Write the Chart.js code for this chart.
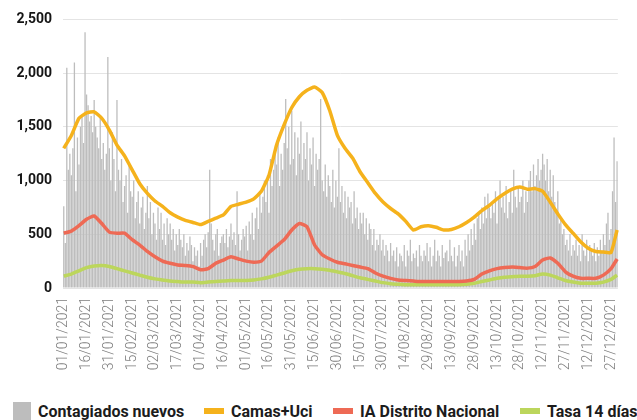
<!DOCTYPE html>
<html>
<head>
<meta charset="utf-8">
<script src="https://cdn.jsdelivr.net/npm/chart.js@4.4.1/dist/chart.umd.min.js"></script>
<style>
  html, body { margin: 0; padding: 0; background: #fff; }
  #wrap { position: relative; width: 637px; height: 420px; overflow: hidden; font-family: Roboto, "Noto Sans", sans-serif; }
  #grafica { position: absolute; left: 0; top: 0; }
  .leg { position: absolute; top: 402px; height: 18px; display: flex; align-items: center; font-weight: 700; font-size: 16px; color: #1c1c1c; white-space: nowrap; }
  .sw { display: inline-block; margin-right: 7px; }
</style>
</head>
<body>
<div id="wrap">
  <canvas id="grafica" width="637" height="390"></canvas>
  <div id="leyenda"></div>
</div>
<script>
// contagiados nuevos, un valor por dia (01/01/2021 - 31/12/2021)
const contagiados = [
  760, 420, 2050, 1100, 1250, 1050, 1300,
  2100, 900, 1400, 1150, 1500, 1600, 1350,
  2380, 1800, 1700, 1550, 1600, 1450, 1750,
  1500, 1400, 1300, 1600, 1200, 1350, 1100,
  1250, 2150, 1300, 1000, 1450, 1200, 900,
  1750, 1100, 1000, 1200, 800, 950, 1050,
  700, 1150, 900, 850, 1000, 650, 800,
  900, 600, 750, 850, 550, 700, 950,
  650, 800, 500, 700, 600, 450, 750,
  550, 700, 450, 600, 400, 650, 500,
  600, 450, 550, 350, 500, 400, 550,
  450, 380, 500, 300, 420, 350, 480,
  400, 250, 380, 300, 350, 200, 420,
  300, 450, 500, 380, 520, 1100, 600,
  450, 350, 500, 550, 300, 420, 480,
  500, 420, 550, 380, 480, 600, 450,
  520, 400, 900, 500, 350, 450, 550,
  480, 580, 350, 620, 500, 700, 450,
  650, 750, 550, 900, 700, 850, 1000,
  800, 1050, 700, 1200, 950, 1100, 1300,
  1150, 1400, 950, 1250, 1100, 1350, 1760,
  1300, 1500, 1150, 1650, 1200, 1450, 1050,
  1400, 1250, 1550, 1100, 1350, 1200, 1450,
  1000, 1300, 1150, 1400, 950, 1250, 1100,
  1200, 1760, 1000, 900, 1150, 850, 1050,
  950, 800, 1100, 750, 1000, 850, 1300,
  800, 950, 700, 900, 650, 850, 750,
  800, 600, 900, 650, 750, 550, 700,
  600, 700, 500, 650, 450, 600, 550,
  400, 550, 350, 450, 400, 500, 350,
  450, 300, 400, 350, 250, 420, 300,
  350, 250, 380, 200, 320, 300, 250,
  400, 200, 350, 300, 450, 250, 320,
  280, 350, 200, 400, 300, 250, 350,
  300, 420, 250, 380, 200, 300, 450,
  250, 350, 300, 200, 400, 280, 330,
  350, 250, 450, 300, 250, 380, 200,
  300, 400, 250, 350, 200, 450, 300,
  500, 350, 550, 400, 600, 450, 650,
  700, 550, 750, 600, 850, 650, 880,
  750, 650, 800, 700, 900, 600, 850,
  1000, 750, 850, 700, 950, 650, 800,
  900, 700, 1100, 850, 750, 950, 800,
  850, 1000, 700, 900, 800, 1000, 1090,
  900, 1150, 950, 1050, 1200, 1000, 1100,
  1250, 1150, 1000, 1200, 900, 1100, 850,
  1050, 800, 700, 900, 600, 650, 500,
  550, 400, 450, 350, 500, 300, 400,
  350, 450, 300, 400, 250, 500, 350,
  300, 450, 250, 400, 350, 300, 420,
  250, 380, 300, 450, 350, 500, 400,
  600, 700, 450, 550, 900, 1400, 800,
  1180
];

// dias (desde el 01/01) en que se leyeron las lineas
const diasLinea = [0, 5, 10, 15, 20, 25, 30, 35, 40, 45, 50, 55, 60, 65, 70, 75, 80, 85, 90, 95,
  100, 105, 110, 115, 120, 125, 130, 135, 140, 145, 150, 155, 160, 165, 170, 175, 180, 185, 190, 195,
  200, 205, 210, 215, 220, 225, 230, 235, 240, 245, 250, 255, 260, 265, 270, 275, 280, 285, 290, 295,
  300, 305, 310, 315, 320, 325, 330, 335, 340, 345, 350, 355, 360, 364];

const camasUci = [1300, 1420, 1580, 1630, 1640, 1580, 1470, 1330, 1230, 1100,
  970, 880, 810, 760, 700, 660, 630, 610, 590, 620,
  650, 680, 760, 780, 800, 830, 900, 1050, 1330, 1520,
  1680, 1780, 1840, 1870, 1820, 1650, 1420, 1300, 1210, 1080,
  980, 880, 800, 740, 690, 620, 540, 570, 580, 565,
  540, 545, 570, 610, 660, 720, 770, 830, 880, 920,
  940, 920, 925, 900, 800, 690, 590, 510, 430, 370,
  340, 335, 330, 540];

const iaDistrito = [510, 530, 580, 640, 670, 600, 520, 510, 510, 450,
  400, 340, 290, 250, 230, 215, 210, 200, 170, 180,
  230, 260, 290, 270, 250, 240, 250, 330, 390, 450,
  540, 600, 570, 400, 310, 270, 240, 225, 210, 195,
  180, 140, 110, 90, 75, 70, 65, 60, 60, 60,
  60, 60, 60, 65, 80, 130, 160, 180, 190, 195,
  190, 185, 200, 260, 280, 230, 150, 110, 90, 90,
  90, 120, 180, 270];

const tasa14 = [110, 130, 160, 190, 205, 210, 200, 180, 160, 140,
  120, 100, 85, 75, 65, 60, 55, 55, 50, 55,
  60, 65, 70, 70, 70, 75, 85, 100, 120, 140,
  160, 175, 180, 180, 175, 165, 150, 135, 115, 95,
  80, 65, 50, 40, 35, 30, 30, 30, 30, 30,
  30, 30, 30, 35, 45, 60, 75, 90, 100, 105,
  110, 110, 115, 130, 120, 95, 70, 55, 45, 45,
  45, 55, 80, 120];

const yTicks = [0, 500, 1000, 1500, 2000, 2500];
const pasoEtiquetas = 15;

// fechas dd/mm/aaaa
const fechas = [];
for (let i = 0; i < contagiados.length; i++) {
  const d = new Date(2021, 0, 1 + i);
  fechas.push(String(d.getDate()).padStart(2, '0') + '/' + String(d.getMonth() + 1).padStart(2, '0') + '/' + d.getFullYear());
}

const puntos = (vals) => vals.map((v, i) => ({ x: fechas[diasLinea[i]], y: v }));

const series = [
  { label: 'Contagiados nuevos', color: '#bdbdbd', tipo: 'bar' },
  { label: 'Camas+Uci', color: '#f5b21c', tipo: 'line', data: camasUci },
  { label: 'IA Distrito Nacional', color: '#ee6a55', tipo: 'line', data: iaDistrito },
  { label: 'Tasa 14 días', color: '#bcd65c', tipo: 'line', data: tasa14 }
];

const ctx = document.getElementById('grafica').getContext('2d');

const grafica = new Chart(ctx, {
  data: {
    labels: fechas,
    datasets: [
      {
        type: 'line',
        label: series[1].label,
        data: puntos(camasUci),
        borderColor: series[1].color,
        borderWidth: 3.5,
        pointRadius: 0,
        tension: 0.15,
        order: 1
      },
      {
        type: 'line',
        label: series[2].label,
        data: puntos(iaDistrito),
        borderColor: series[2].color,
        borderWidth: 3.5,
        pointRadius: 0,
        tension: 0.15,
        order: 2
      },
      {
        type: 'line',
        label: series[3].label,
        data: puntos(tasa14),
        borderColor: series[3].color,
        borderWidth: 3.5,
        pointRadius: 0,
        tension: 0.15,
        order: 3
      },
      {
        type: 'bar',
        label: series[0].label,
        data: contagiados,
        backgroundColor: series[0].color,
        barPercentage: 1,
        categoryPercentage: 0.85,
        order: 10
      }
    ]
  },
  options: {
    responsive: false,
    animation: false,
    layout: { padding: { top: 17, right: 15, left: 0, bottom: 0 } },
    scales: {
      y: {
        min: 0,
        max: 2500,
        afterFit: (s) => { s.width = 63; },
        afterBuildTicks: (s) => { s.ticks = yTicks.map(v => ({ value: v })); },
        ticks: {
          padding: 11,
          color: '#151515',
          font: { family: 'Roboto', size: 14, weight: 'bold' },
          callback: (v) => v.toLocaleString('en-US')
        },
        grid: { color: '#e4e4e4', drawTicks: false },
        border: { display: false }
      },
      x: {
        afterFit: (s) => { s.height = 102; },
        ticks: {
          autoSkip: false,
          minRotation: 90,
          maxRotation: 90,
          padding: 9,
          color: '#7d7d7d',
          font: { family: 'Roboto', size: 14, weight: 300 },
          callback: (v, i) => (i % pasoEtiquetas === 0 ? fechas[i] : null)
        },
        grid: { display: false, drawTicks: false },
        border: { display: false }
      }
    },
    plugins: {
      legend: { display: false },
      tooltip: { enabled: false }
    }
  }
});

// leyenda abajo
const posLeyenda = [13, 204, 333, 520];
const leyenda = document.getElementById('leyenda');
series.forEach((s, i) => {
  const item = document.createElement('div');
  item.className = 'leg';
  item.style.left = posLeyenda[i] + 'px';
  const sw = document.createElement('span');
  sw.className = 'sw';
  sw.style.background = s.color;
  if (s.tipo === 'bar') { sw.style.width = '18px'; sw.style.height = '18px'; }
  else { sw.style.width = '20px'; sw.style.height = '6px'; }
  item.appendChild(sw);
  item.appendChild(document.createTextNode(s.label));
  leyenda.appendChild(item);
});
</script>
</body>
</html>
